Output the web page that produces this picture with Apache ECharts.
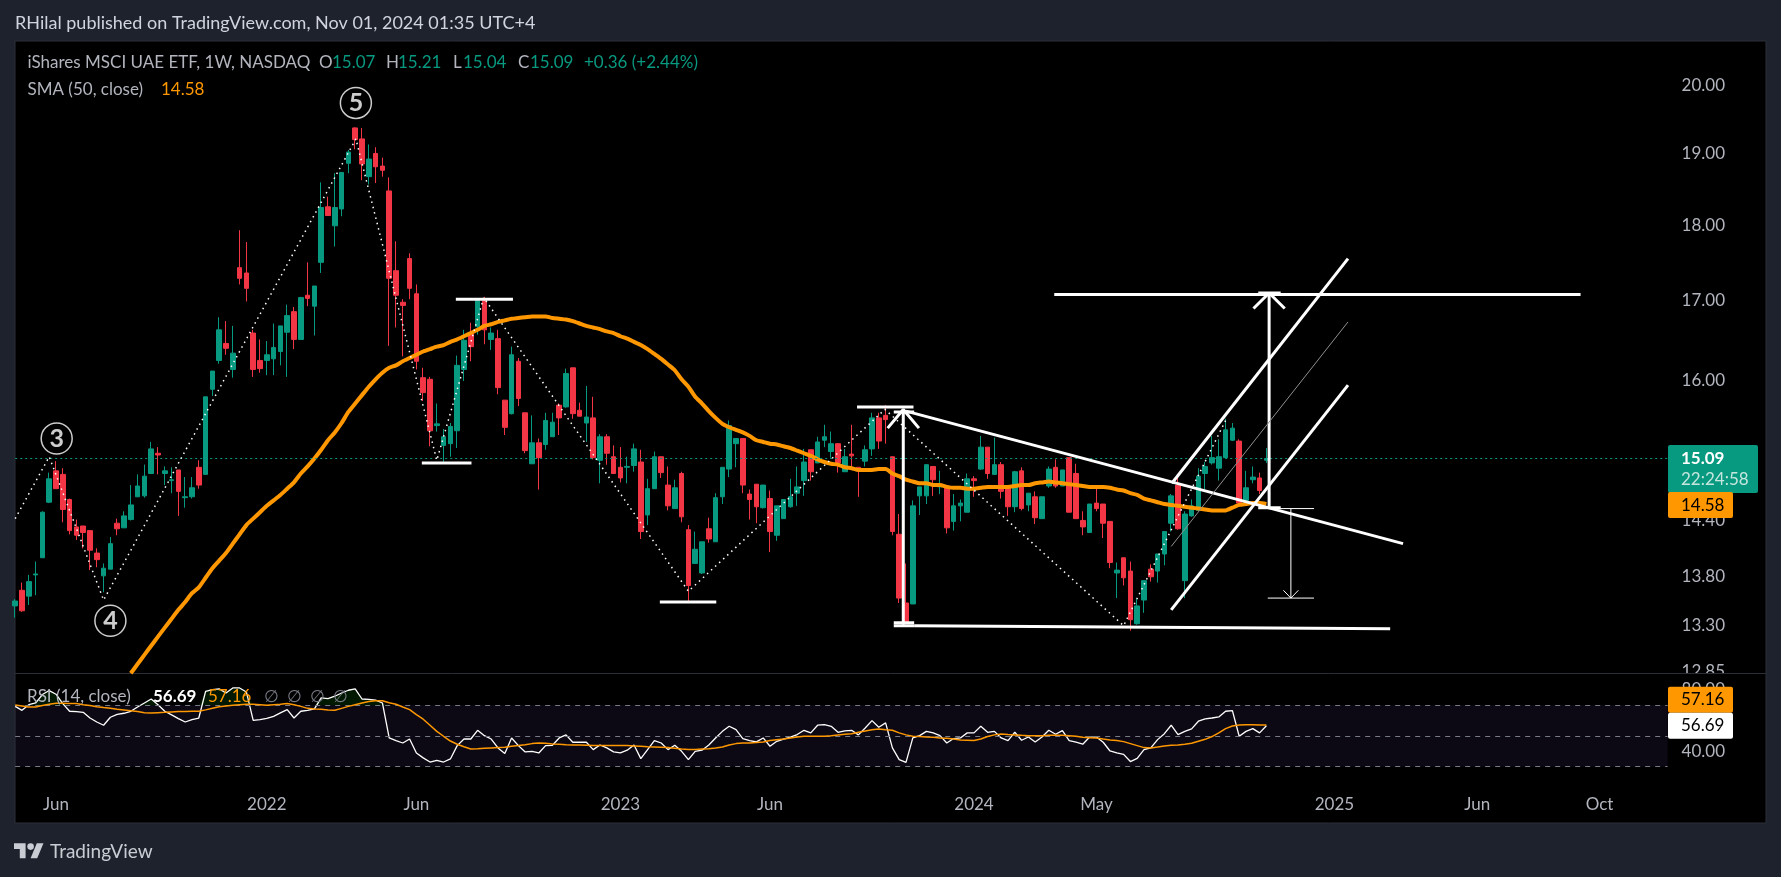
<!DOCTYPE html>
<html>
<head>
<meta charset="utf-8">
<title>iShares MSCI UAE ETF</title>
<style>
  html, body { margin: 0; padding: 0; background: #1e222d; }
  #chart { width: 1781px; height: 877px; }
</style>
<script src="https://cdn.jsdelivr.net/npm/echarts@6/dist/echarts.min.js"></script>
</head>
<body>
<div id="chart"></div>
<script>
// weekly bars
var opens = [
  13.50,13.66,13.60,13.82,14.00,14.60,14.95,14.91,14.63,14.33,
  14.34,14.29,14.05,13.81,13.88,14.37,14.32,14.41,14.66,14.67,
  14.92,15.15,14.92,14.84,14.96,14.65,14.66,14.99,14.91,15.90,
  16.25,16.46,16.14,17.43,17.36,16.59,16.25,16.25,16.27,16.36,
  16.60,16.86,16.51,17.07,16.93,17.50,18.25,17.99,18.22,18.86,
  19.37,19.21,18.67,19.00,18.82,18.47,17.39,16.98,17.55,17.09,
  16.04,16.02,15.47,15.24,15.26,15.41,16.14,16.58,16.67,17.00,
  16.51,16.52,15.77,15.61,16.24,15.62,15.03,15.27,15.25,15.34,
  15.71,15.69,16.16,15.65,15.50,15.56,15.07,15.34,15.11,14.99,
  14.99,15.01,15.05,14.46,14.75,15.11,14.79,14.53,14.92,14.30,
  13.94,13.84,14.31,14.17,14.66,14.97,15.26,15.32,14.69,14.80,
  14.54,14.64,14.24,14.42,14.55,14.70,14.84,15.19,15.04,15.30,
  15.17,15.26,14.94,15.14,14.99,15.06,15.20,15.56,15.59,15.11,
  14.25,13.53,13.52,14.67,14.67,15.00,14.77,14.78,14.39,14.56,
  14.49,14.86,14.97,15.22,14.91,15.02,14.76,14.55,14.95,14.57,
  14.66,14.42,14.78,14.99,14.78,15.10,14.92,14.40,14.27,14.59,
  14.58,14.39,13.84,14.00,13.86,13.32,13.56,13.88,13.86,14.04,
  14.37,14.79,13.76,14.45,14.51,14.92,15.04,14.98,15.10,15.30,
  15.29,14.62,14.85,14.87,15.07
];
var highs = [
  13.57,13.74,13.82,13.96,14.50,14.93,15.06,14.98,14.64,14.41,
  14.34,14.29,14.10,13.94,14.22,14.42,14.50,14.79,14.91,15.02,
  15.28,15.22,15.00,14.99,14.96,14.88,14.88,15.07,15.81,16.12,
  16.79,16.74,16.68,17.93,17.77,16.63,16.51,16.49,16.71,16.68,
  16.95,16.92,17.05,17.50,17.19,18.59,18.39,18.72,18.73,19.05,
  19.38,19.37,19.13,19.09,18.94,18.66,17.78,17.02,17.62,17.21,
  16.16,16.05,15.73,15.43,15.50,16.31,16.63,16.72,17.00,17.05,
  16.66,16.63,15.77,16.42,16.28,15.62,15.59,15.32,15.62,15.62,
  15.73,16.15,16.16,15.74,15.94,15.81,15.37,15.37,15.24,15.22,
  15.11,15.26,15.19,14.86,15.17,15.11,15.00,14.85,14.94,14.35,
  14.28,14.17,14.43,14.70,14.99,15.53,15.32,15.32,14.74,14.80,
  14.79,14.73,14.56,14.63,14.86,15.00,15.20,15.19,15.34,15.48,
  15.40,15.26,15.20,15.48,14.99,15.24,15.62,15.62,15.71,15.11,
  14.47,13.94,14.62,14.77,15.02,15.00,14.95,14.78,14.69,14.63,
  14.92,14.89,15.35,15.22,15.33,15.05,14.76,14.95,14.99,14.70,
  14.72,14.66,15.00,15.08,14.96,15.10,15.03,14.50,14.58,14.76,
  14.58,14.39,13.95,14.00,13.96,13.57,13.76,13.93,14.04,14.28,
  14.69,14.87,14.50,14.63,14.98,15.05,15.35,15.31,15.55,15.50,
  15.31,14.95,15.00,14.93,15.21
];
var lows = [
  13.38,13.44,13.51,13.61,14.00,14.59,14.75,14.38,14.25,14.19,
  14.10,13.87,13.90,13.64,13.88,14.24,14.32,14.40,14.66,14.65,
  14.92,14.91,14.79,14.70,14.45,14.54,14.64,14.75,14.91,15.82,
  16.21,16.32,16.04,17.21,16.99,16.05,16.10,16.07,16.07,16.19,
  16.05,16.39,16.51,16.93,16.56,17.36,18.13,17.71,18.12,18.72,
  19.06,18.62,18.56,18.58,18.67,16.43,16.66,16.30,17.02,16.14,
  15.76,15.23,15.40,15.03,15.11,15.21,16.00,16.24,16.57,16.45,
  16.38,15.84,15.36,15.60,15.70,15.15,15.03,14.74,15.19,15.34,
  15.36,15.68,15.55,15.58,15.28,15.08,14.81,15.02,14.92,14.82,
  14.81,14.94,14.20,14.35,14.75,14.87,14.51,14.53,14.38,13.55,
  13.94,13.83,14.16,14.17,14.58,14.88,14.99,14.70,14.41,14.37,
  14.53,14.06,14.18,14.42,14.54,14.56,14.67,14.84,15.04,15.22,
  15.10,14.93,14.94,14.99,14.66,15.00,15.12,15.20,15.26,14.24,
  13.53,13.32,13.52,14.46,14.58,14.67,14.69,14.26,14.29,14.39,
  14.49,14.66,14.96,14.86,14.91,14.64,14.45,14.49,14.51,14.50,
  14.36,14.42,14.76,14.76,14.78,14.49,14.42,14.24,14.27,14.50,
  14.21,13.89,13.58,13.71,13.25,13.31,13.43,13.75,13.74,13.92,
  14.28,14.30,13.58,14.44,14.51,14.74,15.02,14.84,15.09,15.29,
  14.58,14.57,14.81,14.69,15.04
];
var closes = [
  13.55,13.45,13.75,13.83,14.49,14.86,14.75,14.52,14.29,14.24,
  14.27,14.08,13.98,13.89,14.15,14.31,14.45,14.57,14.78,14.89,
  15.20,15.13,14.95,14.85,14.72,14.66,14.76,14.79,15.81,16.12,
  16.63,16.40,16.34,17.29,17.16,16.14,16.15,16.32,16.41,16.68,
  16.81,16.51,17.04,17.03,17.19,18.24,18.13,18.24,18.73,19.02,
  19.20,18.85,18.92,18.81,18.76,17.29,17.07,16.94,17.16,16.24,
  15.86,15.41,15.49,15.34,15.46,16.19,16.50,16.42,17.00,16.63,
  16.59,15.92,15.45,16.32,15.79,15.18,15.27,15.10,15.53,15.51,
  15.56,16.09,15.61,15.58,15.57,15.10,15.34,15.15,14.92,14.87,
  15.00,15.20,14.28,14.75,15.11,14.93,14.56,14.76,14.44,13.71,
  14.09,14.17,14.20,14.65,14.99,15.47,15.32,14.79,14.63,14.55,
  14.79,14.28,14.56,14.63,14.66,14.77,15.05,14.94,15.28,15.34,
  15.26,15.04,15.11,15.12,14.95,15.19,15.56,15.29,15.54,14.28,
  13.58,13.34,14.56,14.77,15.02,14.85,14.78,14.32,14.56,14.59,
  14.86,14.84,15.22,14.92,15.02,14.72,14.55,14.94,14.53,14.70,
  14.43,14.66,14.97,14.78,14.96,14.49,14.42,14.33,14.58,14.53,
  14.37,13.95,13.87,13.79,13.36,13.50,13.76,13.80,14.04,14.28,
  14.67,14.31,14.47,14.56,14.89,15.00,15.10,15.11,15.42,15.44,
  14.59,14.76,14.88,14.73,15.09
];

// SMA 50, only the part inside the pane: first value belongs to week smaStart
var smaStart = 17;
var smaValues = [
  12.83,12.92,13.01,13.10,13.19,13.28,13.37,13.46,13.54,13.63,13.69,13.79,13.89,
  13.97,14.05,14.15,14.25,14.35,14.42,14.49,14.56,14.62,14.68,14.75,14.82,14.92,
  15.00,15.09,15.19,15.30,15.39,15.50,15.63,15.73,15.83,15.93,16.02,16.10,16.16,
  16.19,16.24,16.28,16.32,16.36,16.39,16.42,16.44,16.48,16.51,16.55,16.59,16.63,
  16.68,16.70,16.73,16.75,16.77,16.78,16.79,16.80,16.80,16.80,16.78,16.77,16.76,
  16.74,16.71,16.68,16.66,16.64,16.61,16.59,16.55,16.52,16.48,16.44,16.39,16.33,
  16.27,16.20,16.13,16.02,15.93,15.81,15.73,15.64,15.56,15.49,15.45,15.42,15.39,
  15.35,15.30,15.28,15.26,15.25,15.23,15.21,15.18,15.15,15.12,15.08,15.05,15.03,
  15.02,14.99,14.98,14.96,14.96,14.96,14.97,14.97,14.92,14.89,14.85,14.83,14.81,
  14.81,14.79,14.79,14.77,14.76,14.76,14.75,14.75,14.76,14.77,14.77,14.77,14.77,
  14.78,14.79,14.79,14.81,14.82,14.83,14.82,14.81,14.80,14.79,14.78,14.77,14.77,
  14.77,14.76,14.74,14.73,14.70,14.68,14.64,14.62,14.60,14.58,14.57,14.56,14.55,
  14.54,14.53,14.52,14.51,14.51,14.51,14.54,14.57,14.58,14.59,14.59,14.58
];

var rsiValues = [
  69.3,66.7,70.4,71.5,77,79.6,77.2,71.1,66.1,65.9,
  65.4,61.7,59.1,57,62.2,64.1,64.8,66.1,68.9,71.5,
  74.1,70.4,66.1,63.7,61.3,59.1,60.7,61.7,79.1,80.2,
  80.7,78,81.3,81.3,78.7,60.2,60.7,61.5,62.8,65,
  67.2,61.7,66.1,66.7,67.6,74.8,74.3,75.9,78,79.8,
  80.7,74.1,73.9,73.3,71.5,48.7,47,45.4,48,38.9,
  35.7,33,34.1,33,35,43.7,48,48,53.7,50.2,
  48,42.2,38.5,48.7,43.7,39.6,40,38.9,43.7,43.9,
  48.7,50.7,45.9,45.9,45.9,41.1,44.1,42.2,39.6,38.9,
  40.7,44.1,35.2,41.1,47,45.4,41.1,43.9,40,34.6,
  40,40.7,44.1,48.7,53,56.3,54.1,48.3,47,46.1,
  48.7,43.3,46.5,48,49.3,50.9,53.7,52,57,57.4,
  56.3,52.4,53.3,53.7,50.7,55.2,60,55.7,58.5,42.2,
  34.6,32.8,48.7,50.2,53,52,50.2,45.4,48.3,48.7,
  52,52,56.3,52.4,53,48.7,47,52.4,47.2,49.3,
  46.1,49.3,53.7,51.1,53.5,47,45.9,44.6,49.3,49.3,
  45.9,40.2,38.9,38,33.3,35.4,41.1,42.2,47.6,51.5,
  57,50.9,53,54.6,59.6,61.1,61.7,62.4,66.1,66.5,
  49.8,53,54.8,52,56.69
];
var rsiMaValues = [
  70.2,69.6,68.9,68.9,69.8,70.7,71.3,71.3,71.1,71.1,
  70.4,69.8,69.1,68.5,68,67.4,67,66.5,65.9,65.2,
  65,65.2,65.4,65.7,65.9,65.9,66.1,66.1,67,68,
  69.1,69.6,70,70.4,70.7,70.7,70.4,70,70.4,70.7,
  71.1,70.4,69.3,68,67.6,67.4,67,66.7,68,69.3,
  70.4,71.5,72.4,73,73,71.7,70.7,68.9,67.2,63.9,
  60.9,57,53,49.8,46.7,44.6,43,41.5,41.7,42,
  42.2,42.4,42.6,43.3,43.7,44.3,45,45.4,45.2,44.8,
  44.6,44.3,44.1,44.1,43.9,43.7,43.7,43.7,43.7,43.7,
  43.7,43.5,43.3,43,42.8,42.6,42.4,42,41.5,41.1,
  41.1,41.5,41.7,42.2,42.8,44.1,45,45.4,45.4,45.7,
  46.1,47,47.6,48,48.7,49.3,49.8,49.8,49.8,49.8,
  50.2,50.7,51.1,51.5,52.4,53.3,54.1,54.6,54.1,53.7,
  52,50.7,49.8,49.6,49.3,49.1,48.7,48.5,48,47.4,
  47.2,47,48,49.6,50.7,51.3,50.9,50.7,50.4,50.2,
  50.2,50.2,50.4,50.4,50.4,50.2,49.8,49.1,48.9,48.7,
  48,47.4,47,46.3,45,43.7,42.4,42.2,42.8,43.5,
  43.9,44.1,44.6,45.2,46.5,47.8,49.6,52,54.8,56.5,
  57.2,57.3,57.3,57.2,57.16
];

var priceTicks = [20, 19, 18, 17, 16, 14.4, 13.8, 13.3, 12.85];
var rsiTicks = [80, 60, 40];
var rsiLevels = [70, 50, 30];
var timeTickWeeks = [6, 37, 59, 89, 111, 141, 159, 194, 215, 233];
var timeTickLabels = ['Jun', '2022', 'Jun', '2023', 'Jun', '2024', 'May', '2025', 'Jun', 'Oct'];

// drawings, as [week number, price]
var zigzag = [[0, 14.42], [5, 15.11], [13, 13.56], [50.1, 19.21], [62, 15.07], [68.9, 17.04], [99, 13.65], [127.9, 15.66], [163, 13.30], [178, 15.53]];
var heavyLines = [
  [[64.8, 17.02], [73.2, 17.02]],
  [[59.8, 15.04], [67.1, 15.04]],
  [[94.8, 13.54], [103.1, 13.54]],
  [[123.8, 15.69], [132.1, 15.69]],
  [[129.2, 13.30], [132.2, 13.30]],
  [[129.2, 13.33], [132.2, 13.33]],
  [[130.6, 13.31], [130.6, 15.66]],
  [[128.3, 15.44], [130.6, 15.66], [132.9, 15.44]],
  [[129.2, 15.63], [132.2, 15.63]],
  [[131, 15.64], [204.1, 14.15]],
  [[132.2, 13.30], [202.2, 13.27]],
  [[152.8, 17.08], [230.2, 17.08]],
  [[184.4, 14.55], [184.4, 17.10]],
  [[182.1, 16.90], [184.4, 17.10], [186.7, 16.90]],
  [[182.8, 17.10], [186.1, 17.10]],
  [[182.8, 14.54], [186.1, 14.54]],
  [[170.1, 14.81], [196, 17.55]],
  [[170, 13.46], [196, 15.95]]
];
var thinLines = [
  [[187.6, 14.53], [187.6, 13.58]],
  [[184.2, 14.53], [191, 14.53]],
  [[184.2, 13.58], [191, 13.58]],
  [[186.5, 13.66], [187.6, 13.58], [188.7, 13.66]],
  [[170, 14.12], [196, 16.73]]
];
var waveLabels = [
  { name: '3', value: [6.1, 15.32] },
  { name: '4', value: [14, 13.35] },
  { name: '5', value: [50.1, 19.74] }
];

var lastPrice = 15.09;
var lastSma = 14.58;
var lastRsi = 56.69;
var lastRsiMa = 57.16;

var chartDom = document.getElementById('chart');
var chart = echarts.init(chartDom);

var fontName = 'Lato';
var UP = '#089981';
var DOWN = '#f23645';
var ORANGE = '#ff9800';
var TEXT = '#b2b5be';
var WEEKS_SHOWN = 244; // candles plus the empty space on the right

var weeks = [];
var d = new Date(Date.UTC(2021, 3, 19));
for (var i = 0; i < WEEKS_SHOWN; i++) {
  weeks.push(d.toISOString().slice(0, 10));
  d = new Date(d.getTime() + 7 * 86400000);
}

var candles = [];
for (var i = 0; i < opens.length; i++) {
  candles.push([opens[i], closes[i], lows[i], highs[i]]);
}

var sma = [];
for (var i = 0; i < smaValues.length; i++) {
  sma.push([smaStart + i, smaValues[i]]);
}

// stack used for the faint fill over the overbought line
var obBase = [];
var obExcess = [];
for (var i = 0; i < rsiValues.length; i++) {
  obBase.push(70);
  obExcess.push(Math.max(0, rsiValues[i] - 70));
}

var drawingSeries = function (points, width, color, type) {
  return {
    type: 'line',
    xAxisIndex: 2,
    yAxisIndex: 0,
    data: points,
    symbol: 'none',
    silent: true,
    animation: false,
    z: 6,
    lineStyle: { color: color, width: width, type: type || 'solid' }
  };
};

var series = [
  {
    name: 'Price',
    type: 'candlestick',
    xAxisIndex: 0,
    yAxisIndex: 0,
    data: candles,
    barWidth: 5,
    z: 3,
    itemStyle: { color: UP, color0: DOWN, borderColor: UP, borderColor0: DOWN, borderWidth: 1 },
    markLine: {
      silent: true,
      symbol: 'none',
      animation: false,
      label: { show: false },
      lineStyle: { color: UP, type: [2, 3], width: 1 },
      data: [{ yAxis: lastPrice }]
    }
  },
  {
    name: 'SMA',
    type: 'line',
    xAxisIndex: 2,
    yAxisIndex: 0,
    data: sma,
    symbol: 'none',
    smooth: 0.2,
    z: 4,
    lineStyle: { color: ORANGE, width: 4 }
  },
  {
    type: 'line',
    xAxisIndex: 1,
    yAxisIndex: 1,
    data: obBase,
    stack: 'ob',
    symbol: 'none',
    lineStyle: { width: 0 },
    silent: true
  },
  {
    type: 'line',
    xAxisIndex: 1,
    yAxisIndex: 1,
    data: obExcess,
    stack: 'ob',
    symbol: 'none',
    lineStyle: { width: 0 },
    areaStyle: { color: 'rgba(0,255,0,0.14)' },
    silent: true
  },
  {
    name: 'RSI',
    type: 'line',
    xAxisIndex: 1,
    yAxisIndex: 1,
    data: rsiValues,
    symbol: 'none',
    z: 4,
    lineStyle: { color: '#ffffff', width: 1.3 },
    markArea: {
      silent: true,
      itemStyle: { color: 'rgba(126,87,194,0.1)' },
      data: [[{ yAxis: rsiLevels[0] }, { yAxis: rsiLevels[2] }]]
    },
    markLine: {
      silent: true,
      symbol: 'none',
      animation: false,
      label: { show: false },
      lineStyle: { color: '#787b86', type: [5, 5], width: 1 },
      data: rsiLevels.map(function (v) { return { yAxis: v }; })
    }
  },
  {
    name: 'RSI MA',
    type: 'line',
    xAxisIndex: 1,
    yAxisIndex: 1,
    data: rsiMaValues,
    symbol: 'none',
    z: 5,
    lineStyle: { color: ORANGE, width: 1.5 }
  },
  {
    type: 'scatter',
    xAxisIndex: 2,
    yAxisIndex: 0,
    data: waveLabels,
    symbol: 'circle',
    symbolSize: 31,
    silent: true,
    z: 7,
    itemStyle: { color: '#000000', borderColor: '#ffffff', borderWidth: 1.5 },
    label: {
      show: true,
      position: 'inside',
      formatter: '{b}',
      color: '#ffffff',
      fontFamily: fontName,
      fontWeight: 'bold',
      fontSize: 25
    }
  },
  drawingSeries(zigzag, 1.5, '#ffffff', [1.5, 4])
];
heavyLines.forEach(function (p) { series.push(drawingSeries(p, 3, '#ffffff')); });
thinLines.forEach(function (p, i) {
  series.push(drawingSeries(p, 1, i === 4 ? '#8f8f8f' : '#ffffff'));
});

var tickText = function (text, x, y, color, weight, size) {
  return {
    type: 'text',
    x: x,
    y: y,
    z: 30,
    silent: true,
    style: {
      text: text,
      fill: color,
      font: (weight || 'normal') + ' ' + (size || 17) + 'px ' + fontName,
      textVerticalAlign: 'middle'
    }
  };
};

var graphics = [
  { type: 'rect', z: -10, silent: true, shape: { x: 15, y: 41, width: 1751, height: 782 },
    style: { fill: '#000000', stroke: '#2a2e39', lineWidth: 1 } },
  { type: 'rect', z: 2, silent: true, shape: { x: 1668, y: 674, width: 97, height: 14 }, style: { fill: '#000000' } },
  { type: 'line', z: 2, silent: true, shape: { x1: 15, y1: 673.5, x2: 1766, y2: 673.5 }, style: { stroke: '#2a2e39', lineWidth: 1 } },
  tickText('RHilal published on TradingView.com, Nov 01, 2024 01:35 UTC+4', 15, 23, '#d1d4dc', 'normal', 18),
  tickText('iShares MSCI UAE ETF, 1W, NASDAQ', 27.5, 63, TEXT),
  tickText('O', 319, 63, TEXT), tickText('15.07', 332, 63, UP),
  tickText('H', 386, 63, TEXT), tickText('15.21', 398, 63, UP),
  tickText('L', 453, 63, TEXT), tickText('15.04', 463, 63, UP),
  tickText('C', 518, 63, TEXT), tickText('15.09', 530, 63, UP),
  tickText('+0.36 (+2.44%)', 584, 63, UP),
  tickText('SMA (50, close)', 27.5, 90, TEXT),
  tickText('14.58', 161, 90, ORANGE),
  tickText('RSI (14, close)', 27, 697, TEXT),
  tickText('56.69', 153, 697, '#ffffff', 'bold'),
  tickText('57.16', 208, 697, ORANGE),
  tickText('\u2205', 264, 697, '#787b86'),
  tickText('\u2205', 287, 697, '#787b86'),
  tickText('\u2205', 310, 697, '#787b86'),
  tickText('\u2205', 333, 697, '#787b86'),
  tickText('TradingView', 50, 852, '#c9ccd3', 'normal', 19),
  { type: 'polygon', z: 30, silent: true, shape: { points: [[25.6, 858.3], [19.8, 858.3], [19.8, 849.1], [14, 849.1], [14, 843.3], [25.6, 843.3]] },
    style: { fill: '#c9ccd3' } },
  { type: 'polygon', z: 30, silent: true, shape: { points: [[37.2, 858.3], [30.6, 858.3], [36.8, 843.3], [43.5, 843.3]] },
    style: { fill: '#c9ccd3' } },
  { type: 'circle', z: 30, silent: true, shape: { cx: 30.6, cy: 846.6, r: 3.3 }, style: { fill: '#c9ccd3' } }
];

var option = {
  animation: false,
  backgroundColor: '#1e222d',
  graphic: { elements: graphics },
  grid: [
    { left: 15.2, top: 41.3, width: 1652.4, height: 632 },
    { left: 15.2, top: 674, width: 1652.4, height: 119 }
  ],
  xAxis: [
    {
      type: 'category',
      gridIndex: 0,
      data: weeks,
      boundaryGap: false,
      show: false
    },
    {
      type: 'category',
      gridIndex: 1,
      data: weeks,
      boundaryGap: false,
      axisLine: { show: false },
      axisTick: { show: false },
      splitLine: { show: false },
      axisLabel: {
        color: TEXT,
        fontFamily: fontName,
        fontSize: 17,
        margin: 3,
        interval: function (index) { return timeTickWeeks.indexOf(index) >= 0; },
        formatter: function (value, index) {
          return timeTickLabels[timeTickWeeks.indexOf(index)];
        }
      }
    },
    {
      // plain week numbers, the drawings do not sit on whole weeks
      type: 'value',
      gridIndex: 0,
      min: 0,
      max: WEEKS_SHOWN - 1,
      show: false,
      splitLine: { show: false }
    }
  ],
  yAxis: [
    {
      type: 'log',
      gridIndex: 0,
      position: 'right',
      min: 12.83,
      max: 20.68,
      z: 1,
      axisLine: { show: false },
      axisTick: { show: false },
      splitLine: { show: false },
      minorSplitLine: { show: false },
      axisLabel: {
        color: TEXT,
        fontFamily: fontName,
        fontSize: 17,
        margin: 14,
        padding: [3, 0, 0, 0],
        customValues: priceTicks,
        formatter: function (v) { return v.toFixed(2); }
      }
    },
    {
      type: 'value',
      gridIndex: 1,
      position: 'right',
      min: 12.8,
      max: 90.4,
      z: 3,
      axisLine: { show: false },
      axisTick: { show: false },
      splitLine: { show: false },
      axisLabel: {
        color: TEXT,
        fontFamily: fontName,
        fontSize: 17,
        margin: 14,
        customValues: rsiTicks,
        formatter: function (v) { return v.toFixed(2); }
      }
    }
  ],
  series: series
};

chart.setOption(option);

// value tags on the price scales, placed from the axes
var tag = function (x, y, w, h, fill) {
  return { type: 'rect', z: 20, silent: true, shape: { x: x, y: y, width: w, height: h, r: 2 }, style: { fill: fill } };
};
var priceY = chart.convertToPixel({ yAxisIndex: 0 }, lastPrice);
var smaY = chart.convertToPixel({ yAxisIndex: 0 }, lastSma);
var rsiY = chart.convertToPixel({ yAxisIndex: 1 }, lastRsi);

chart.setOption({
  graphic: {
    elements: graphics.concat([
      tag(1668, priceY - 13.5, 90, 48, UP),
      tag(1668, smaY - 12, 65, 26, ORANGE),
      tag(1668, rsiY - 39, 65, 26, ORANGE),
      tag(1668, rsiY - 13, 65, 26, '#ffffff'),
      tickText(lastPrice.toFixed(2), 1681, priceY, '#ffffff', 'bold'),
      tickText('22:24:58', 1681, priceY + 21, '#c5e6dd'),
      tickText(lastSma.toFixed(2), 1681, smaY + 1, '#000000'),
      tickText(lastRsiMa.toFixed(2), 1681, rsiY - 26, '#000000'),
      tickText(lastRsi.toFixed(2), 1681, rsiY, '#000000')
    ])
  }
});
</script>
</body>
</html>
